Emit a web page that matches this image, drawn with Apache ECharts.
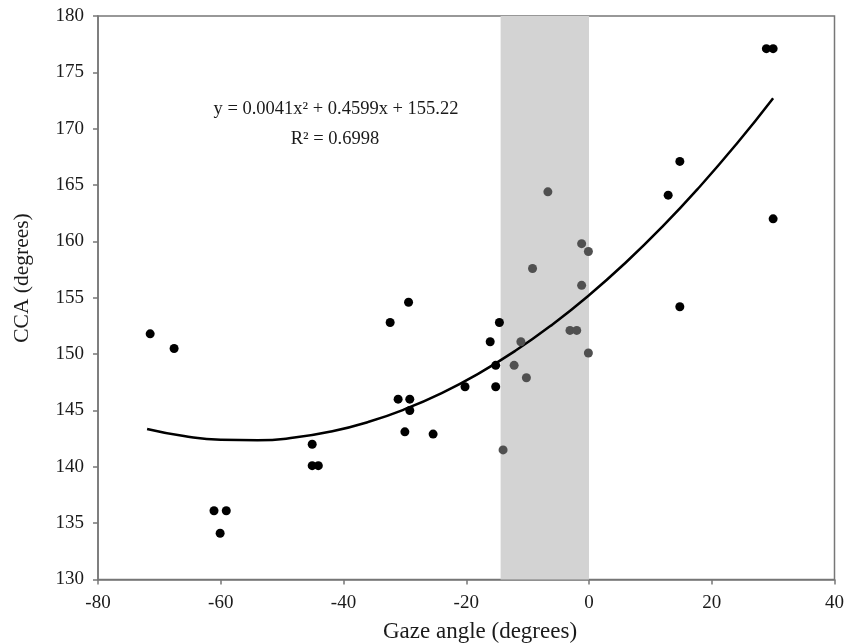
<!DOCTYPE html>
<html>
<head>
<meta charset="utf-8">
<script src="https://cdn.jsdelivr.net/npm/echarts@6/dist/echarts.min.js"></script>
<style>
  html, body { margin: 0; padding: 0; background: #fff; }
  #chart { width: 847px; height: 644px; }
</style>
</head>
<body>
<div id="chart"></div>
<script>
// gaze angle (x) / CCA (y) for subjects outside the shaded band
var outsidePoints = [
    [-71.5, 151.8], [-67.6, 150.5],
    [-61.1, 136.1], [-59.1, 136.1], [-60.1, 134.1],
    [-45.1, 142.0], [-45.1, 140.1], [-44.1, 140.1],
    [-32.4, 152.8], [-29.4, 154.6], [-31.1, 146.0], [-29.2, 146.0],
    [-29.2, 145.0], [-30.0, 143.1], [-25.4, 142.9],
    [-20.2, 147.1], [-16.1, 151.1], [-14.6, 152.8], [-15.2, 149.0], [-15.2, 147.1],
    [12.9, 164.1], [14.8, 167.1], [14.8, 154.2],
    [28.9, 177.1], [30.0, 177.1], [30.0, 162.0]
];
// points inside the shaded band (drawn grey)
var bandPoints = [
    [-14.0, 141.5], [-12.2, 149.0], [-11.1, 151.1], [-10.2, 147.9],
    [-9.2, 157.6], [-6.7, 164.4], [-3.1, 152.1], [-2.0, 152.1],
    [-1.2, 159.8], [-0.1, 159.1], [-1.2, 156.1], [-0.1, 150.1]
];
// trend line y = 0.0041x^2 + 0.4599x + 155.22, sampled values
var trendX = [-72, -66, -60, -54, -48, -42, -36, -30, -24, -18, -12, -6, 0, 6, 12, 18, 24, 30];
var trendY = [143.36, 142.73, 142.39, 142.35, 142.59, 143.13, 143.97, 145.11, 146.54, 148.27,
              150.29, 152.61, 155.22, 158.13, 161.33, 164.83, 168.62, 172.71];
var band = [-14.4, 0];
var xTicks = [-80, -60, -40, -20, 0, 20, 40];
var yTicks = [130, 135, 140, 145, 150, 155, 160, 165, 170, 175, 180];
var equationText = 'y = 0.0041x² + 0.4599x + 155.22';
var r2Text = 'R² = 0.6998';

var font = "'Liberation Serif', 'DejaVu Serif', serif";
var axisGrey = '#777';
var textColor = '#1a1a1a';

var trendData = [];
for (var i = 0; i < trendX.length; i++) trendData.push([trendX[i], trendY[i]]);

var chart = echarts.init(document.getElementById('chart'));
var option = {
    animation: false,
    backgroundColor: '#fff',
    grid: {
        left: 98, right: 11, top: 16, bottom: 64.5,
        show: true, borderColor: axisGrey, borderWidth: 1.5
    },
    xAxis: {
        type: 'value',
        min: xTicks[0], max: xTicks[xTicks.length - 1], interval: 20,
        axisLine: { show: true, onZero: false, lineStyle: { color: axisGrey, width: 1.5 } },
        axisTick: { show: true, inside: false, length: 5, lineStyle: { color: axisGrey, width: 1.5 } },
        axisLabel: { fontFamily: font, fontSize: 19, color: textColor, margin: 14 },
        splitLine: { show: false }
    },
    yAxis: {
        type: 'value',
        min: yTicks[0], max: yTicks[yTicks.length - 1], interval: 5,
        axisLine: { show: true, onZero: false, lineStyle: { color: axisGrey, width: 1.5 } },
        axisTick: { show: true, inside: false, length: 5, lineStyle: { color: axisGrey, width: 1.5 } },
        axisLabel: { fontFamily: font, fontSize: 19, color: textColor, margin: 14 },
        splitLine: { show: false }
    },
    graphic: [
        {
            type: 'text', x: 22, y: 278, rotation: Math.PI / 2,
            style: { text: 'CCA (degrees)', fontFamily: font, fontSize: 21.5, fill: textColor,
                     align: 'center', verticalAlign: 'middle' }
        },
        {
            type: 'text', x: 480, y: 632,
            style: { text: 'Gaze angle (degrees)', fontFamily: font, fontSize: 23, fill: textColor,
                     align: 'center', verticalAlign: 'middle' }
        },
        {
            type: 'text', x: 336, y: 109,
            style: { text: equationText, fontFamily: font, fontSize: 18.5, fill: textColor,
                     align: 'center', verticalAlign: 'middle' }
        },
        {
            type: 'text', x: 335, y: 139,
            style: { text: r2Text, fontFamily: font, fontSize: 18.5, fill: textColor,
                     align: 'center', verticalAlign: 'middle' }
        }
    ],
    series: [
        {
            name: 'band', type: 'line', data: [], z: 1,
            markArea: {
                silent: true,
                itemStyle: { color: '#d3d3d3' },
                data: [[{ xAxis: band[0] }, { xAxis: band[1] }]]
            }
        },
        {
            name: 'trend', type: 'line', data: trendData, smooth: true,
            showSymbol: false, z: 3,
            lineStyle: { color: '#000', width: 2.5 }
        },
        {
            name: 'outside', type: 'scatter', data: outsidePoints, z: 4,
            symbolSize: 9, itemStyle: { color: '#000', opacity: 1 }
        },
        {
            name: 'inside', type: 'scatter', data: bandPoints, z: 4,
            symbolSize: 9, itemStyle: { color: '#505050', opacity: 1 }
        }
    ]
};
chart.setOption(option);
</script>
</body>
</html>
